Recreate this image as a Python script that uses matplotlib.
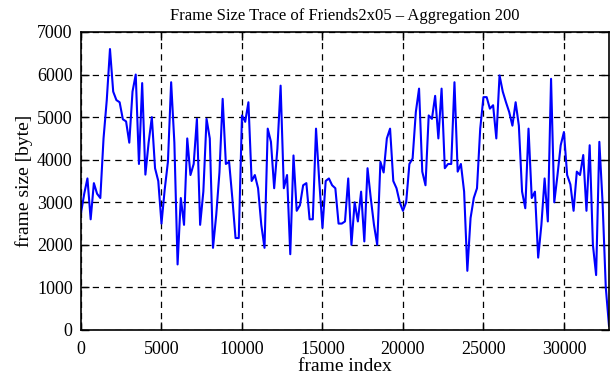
import numpy as np
import matplotlib
matplotlib.use("Agg")
import matplotlib.pyplot as plt

# Aggregated frame sizes (one value per 200 frames)
frame_sizes = [
    2750, 3200, 3560, 2600, 3450, 3200, 3100, 4500, 5400, 6600,
    5600, 5400, 5350, 4950, 4900, 4400, 5600, 6000, 3900, 5800,
    3650, 4400, 5000, 3800, 3500, 2500, 3300, 3950, 5820, 4400,
    1540, 3100, 2470, 4500, 3640, 3900, 4960, 2470, 3250, 4960,
    4500, 1930, 2700, 3700, 5430, 3900, 3950, 3100, 2160, 2160,
    5040, 4890, 5350, 3500, 3640, 3330, 2470, 1930, 4730, 4420,
    3330, 4260, 5740, 3330, 3640, 1780, 4100, 2800, 2930, 3400,
    3450, 2600, 2600, 4730, 3500, 2400, 3500, 3560, 3400, 3330,
    2500, 2500, 2550, 3560, 2000, 3000, 2550, 3250, 2080, 3800,
    3100, 2470, 2000, 3950, 3700, 4500, 4730, 3500, 3330, 3000,
    2800, 3000, 3900, 4030, 5120, 5670, 3720, 3400, 5040, 4960,
    5500, 4500, 5670, 3800, 3900, 3900, 5820, 3720, 3900, 3250,
    1390, 2630, 3100, 3330, 4730, 5470, 5470, 5200, 5280, 4500,
    5980, 5600, 5350, 5120, 4800, 5350, 4800, 3250, 2860, 4730,
    3100, 3250, 1700, 2470, 3560, 2550, 5900, 3000, 3640, 4340,
    4650, 3640, 3420, 2800, 3720, 3640, 4110, 2800, 4340, 2000,
    1290, 4420, 3000, 1000, 100,
]
aggregation = 200
frame_index = np.arange(len(frame_sizes)) * aggregation

x_ticks = [0, 5000, 10000, 15000, 20000, 25000, 30000]
y_ticks = [0, 1000, 2000, 3000, 4000, 5000, 6000, 7000]

plt.rcParams["font.family"] = ["Liberation Serif", "DejaVu Serif"]
plt.rcParams["font.size"] = 13

fig = plt.figure(figsize=(6.11, 3.80), dpi=100)
ax = fig.add_axes([81 / 611, 50 / 380, 528 / 611, 298 / 380])

ax.plot(frame_index, frame_sizes, color="#0000ff", lw=1.5)

ax.set_xlim(0, frame_index[-1])
ax.set_ylim(0, 7000)
ax.set_xticks(x_ticks)
ax.set_yticks(y_ticks)

ax.grid(True, color="black", linestyle=(0, (5, 4)), lw=0.9)
ax.tick_params(direction="in", length=6, width=1, top=True, right=True,
               labelsize=13)
ax.tick_params(axis="x", pad=8)
ax.tick_params(axis="y", pad=6)
for s in ax.spines.values():
    s.set_linewidth(1.2)

ax.set_title("Frame Size Trace of Friends2x05 \u2013 Aggregation 200",
             fontsize=12, pad=9)
ax.set_xlabel("frame index", fontsize=14, labelpad=0)
ax.set_ylabel("frame size [byte]", fontsize=14, labelpad=3)

fig.savefig("out.png", dpi=100)
